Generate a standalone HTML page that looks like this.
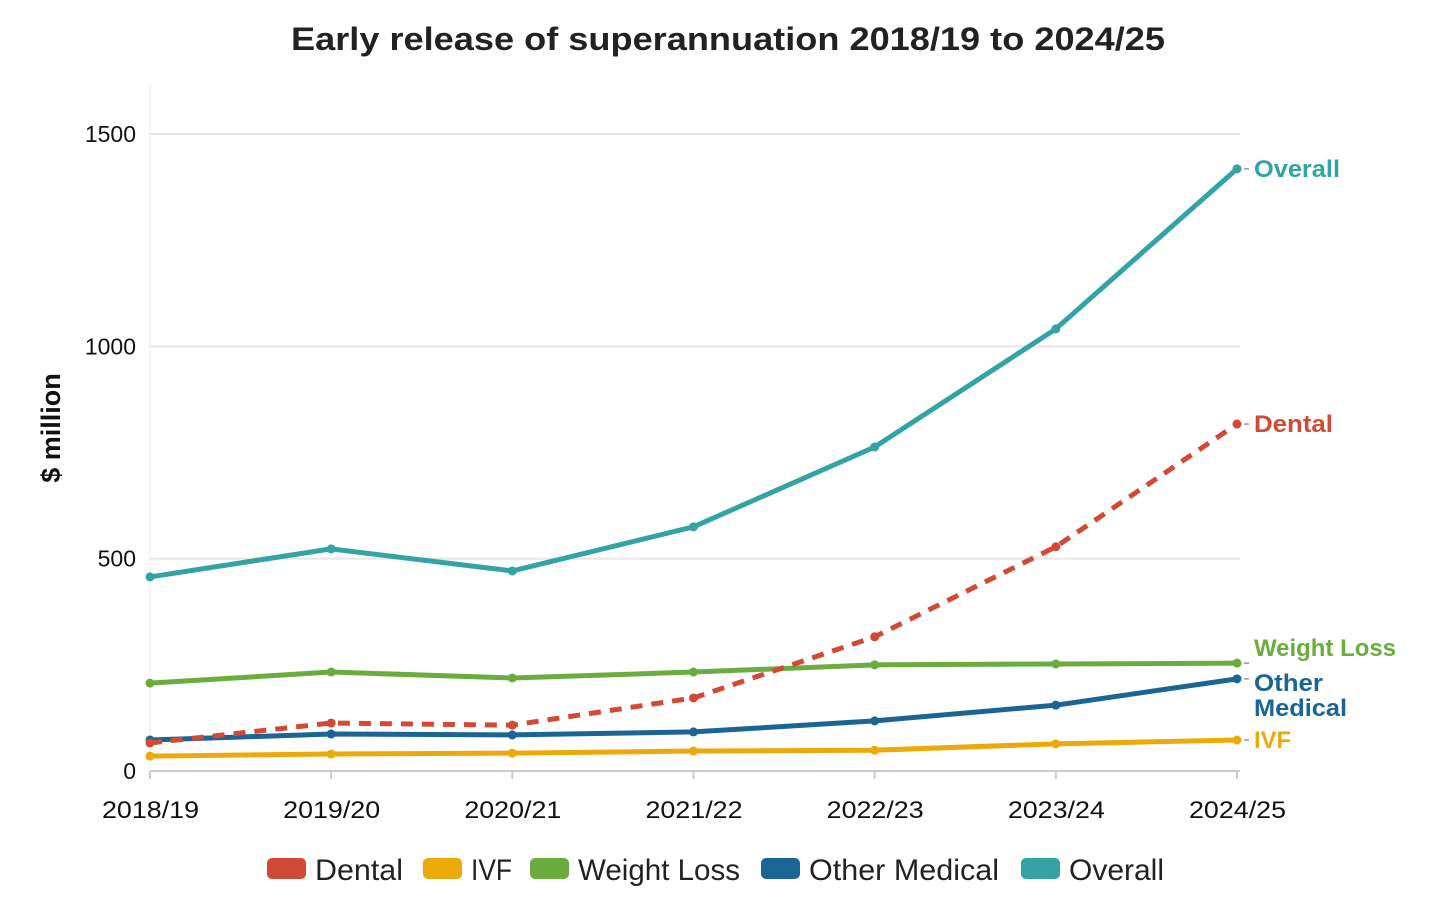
<!DOCTYPE html>
<html><head><meta charset="utf-8">
<style>
html,body{margin:0;padding:0;background:#fff;}
svg{display:block;font-family:"Liberation Sans",sans-serif;}
</style></head>
<body>
<svg id="chart" width="1456" height="903" viewBox="0 0 1456 903">
<text x="291" y="50" textLength="874" lengthAdjust="spacingAndGlyphs" font-size="32" font-weight="bold" fill="#222">Early release of superannuation 2018/19 to 2024/25</text>
<text transform="translate(60,428) rotate(-90)" text-anchor="middle" font-size="27" font-weight="bold" fill="#111">$ million</text>
<g id="grid"></g><g id="xaxis"></g><g id="series"></g><g id="labels"></g><g id="legend"></g>
</svg>
<script>
const categories=["2018/19","2019/20","2020/21","2021/22","2022/23","2023/24","2024/25"];
const yTicks=[0,500,1000,1500];
const dental=[66,113,108,172,316,528,817];
const ivf=[35,40,42,47,49,64,73];
const weightLoss=[207,233,219,233,250,252,254];
const otherMedical=[73,87,85,92,118,155,217];
const overall=[457,523,471,575,763,1041,1418];
const seriesNames=["Dental","IVF","Weight Loss","Other Medical","Overall"];
const NS="http://www.w3.org/2000/svg";
function X(i){return 150+i*(1237-150)/(categories.length-1);}
function Y(v){return 771-v*(771-134)/1500;}
function mk(tag,attrs,parent){const e=document.createElementNS(NS,tag);for(const k in attrs)e.setAttribute(k,attrs[k]);parent.appendChild(e);return e;}
const grid=document.getElementById('grid');
yTicks.forEach(t=>{
  const l=mk('line',{x1:150,x2:1240,y1:Y(t),y2:Y(t),stroke:t===0?'#ccc':'#e6e6e6','stroke-width':2},grid);
  
  
  const tx=mk('text',{x:136,y:Y(t)+8,'text-anchor':'end','font-size':23,fill:'#111'},grid);
  tx.textContent=t;
  
  
});
mk('line',{x1:150,x2:150,y1:85,y2:771,stroke:'#eee','stroke-width':1},grid);
const xa=document.getElementById('xaxis');
categories.forEach((c,i)=>{
  mk('line',{x1:X(i),x2:X(i),y1:771,y2:779,stroke:'#ccc','stroke-width':2},xa);
  const tx=mk('text',{x:X(i)-48,y:818,textLength:97,lengthAdjust:'spacingAndGlyphs','font-size':24,fill:'#111'},xa);
  tx.textContent=c;
  
  
});
const colors=["#d04a35","#ebaa0a","#6aad3e","#1b6595","#33a3a3"];
const data=[dental,ivf,weightLoss,otherMedical,overall];
const sg=document.getElementById('series');
[2,1,3,0,4].forEach(si=>{
  const d=data[si].map((v,i)=>(i?'L':'M')+X(i)+','+Y(v)).join(' ');
  const p=mk('path',{d:d,fill:'none',stroke:colors[si],'stroke-width':5,'stroke-linejoin':'round'},sg);
  if(si===0)p.setAttribute('stroke-dasharray','12,9');
  
  
  data[si].forEach((v,i)=>{
    const c=mk('circle',{cx:X(i),cy:Y(v),r:4.5,fill:colors[si]},sg);
    
    
  });
});
const lg=document.getElementById('labels');
const last=categories.length-1;
const endLabels=[[4,["Overall"],0,[86]],[0,["Dental"],0,[79]],[2,["Weight Loss"],-15,[142]],[3,["Other","Medical"],4,[69,93]],[1,["IVF"],0,[37]]];
endLabels.forEach(([si,lines,dy,w])=>{
  const y=Y(data[si][last])+dy;
  mk('line',{x1:1244,x2:1249,y1:Y(data[si][last]),y2:Y(data[si][last]),stroke:'#999','stroke-width':1.5},lg);
  lines.forEach((s,k)=>{
    const t=mk('text',{x:1254,y:y+8+k*25,textLength:w[k],lengthAdjust:'spacingAndGlyphs','font-size':24,'font-weight':'bold',fill:colors[si]},lg);
    t.textContent=s;
    
    
  });
});
const leg=document.getElementById('legend');
const legX=[267,423,530,761,1021];
const legW=[88,41,162,190,95];
seriesNames.forEach((n,i)=>{
  const g=mk('g',{},leg);
  
  
  mk('rect',{x:legX[i],y:858,width:39,height:21,rx:5,fill:colors[i]},g);
  const t=mk('text',{x:legX[i]+48,y:880,textLength:legW[i],lengthAdjust:'spacingAndGlyphs','font-size':30,fill:'#222'},g);
  t.textContent=n;
});
</script>
</body></html>
